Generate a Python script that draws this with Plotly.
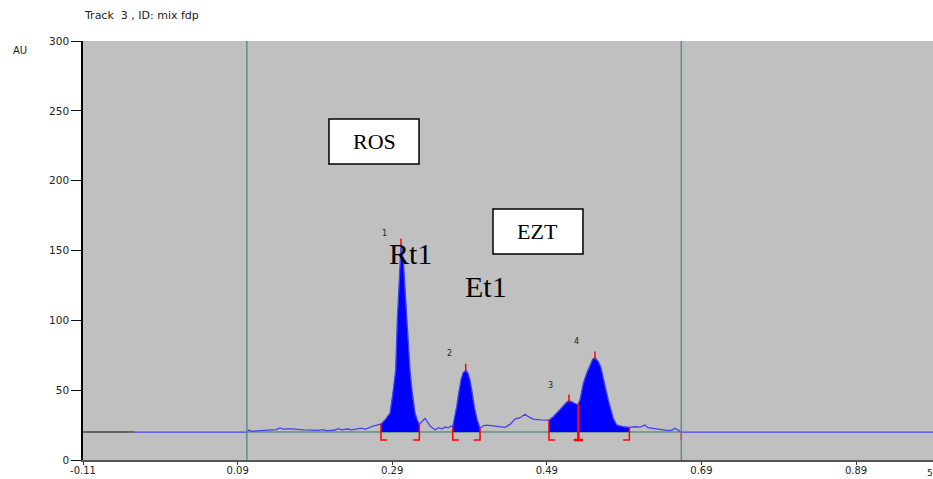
import numpy as np
import plotly.graph_objects as go

# ---------------- data ----------------
signal_x = [-0.043, 0.102, 0.1047, 0.1075, 0.115, 0.125, 0.135, 0.140, 0.145, 0.150,
            0.155, 0.165, 0.175, 0.185, 0.195, 0.200, 0.205, 0.215, 0.220, 0.225,
            0.232, 0.238, 0.245, 0.250, 0.255, 0.260, 0.265, 0.270, 0.2755,
            0.2807, 0.2872, 0.2910, 0.2945, 0.2966, 0.2984, 0.2997, 0.3014, 0.3044,
            0.3066, 0.3088, 0.3130, 0.3160, 0.3195, 0.3225, 0.3251,
            0.3324, 0.3389, 0.3454, 0.3497, 0.3541, 0.3584, 0.3627, 0.3662,
            0.3683, 0.3703, 0.3734, 0.3760, 0.3790, 0.3816, 0.3851, 0.3880, 0.3906,
            0.3936, 0.3962, 0.4000, 0.4036,
            0.4078, 0.4122, 0.4207, 0.4294, 0.4359, 0.4424, 0.4488, 0.4553, 0.4618,
            0.4661, 0.4725, 0.4812, 0.4899,
            0.4928, 0.4984, 0.5028, 0.5071, 0.5113, 0.5157, 0.5187, 0.5222, 0.5265,
            0.5300, 0.5329, 0.5351, 0.5372, 0.5416, 0.5459, 0.5494, 0.5523, 0.5566,
            0.5597, 0.5631, 0.5666, 0.5696, 0.5727, 0.5760, 0.5804, 0.5890, 0.5968,
            0.6041, 0.6106, 0.6170, 0.6205, 0.6278, 0.6343, 0.6386, 0.6451, 0.6516,
            0.6558, 0.6593, 0.6623, 0.664, 0.99]
signal_y = [20.0, 20.0, 21.5, 20.5, 20.8, 21.0, 21.2, 21.8, 23.0, 22.0,
            22.4, 21.8, 21.5, 21.4, 21.2, 21.8, 21.0, 21.3, 22.4, 21.6,
            22.2, 21.6, 22.0, 22.8, 22.0, 23.2, 24.2, 25.0, 25.8,
            28.6, 33.6, 48.0, 64.4, 100.2, 123.8, 143.2, 154.0, 143.2,
            123.8, 100.2, 64.4, 48.0, 33.6, 28.6, 25.5,
            29.8, 24.5, 21.5, 23.1, 22.2, 23.6, 23.0, 24.3,
            23.8, 28.6, 38.2, 47.7, 57.3, 62.3, 64.4, 62.3, 57.3,
            47.7, 38.2, 28.6, 22.7,
            24.5, 25.0, 24.5, 24.1, 23.4, 25.5, 29.3, 30.3, 32.7,
            31.0, 29.3, 28.8, 28.6,
            28.6, 31.0, 33.4, 35.8, 38.7, 41.3, 42.4, 41.7, 40.6,
            39.4, 42.9, 48.9, 54.9, 62.1, 68.0, 72.1, 73.2, 70.4,
            66.8, 59.6, 50.1, 42.9, 35.8, 29.8, 25.1, 23.8, 23.4,
            23.8, 23.6, 25.0, 23.1, 22.7, 22.2, 21.7, 21.2, 21.2,
            22.7, 21.5, 20.3, 20.0, 20.0]

baseline_level = 20.0
track_start = 0.102
track_end = 0.664

peak_labels = ["1", "2", "3", "4"]
peak_start = [0.2755, 0.3683, 0.4928, 0.5308]
peak_end = [0.3251, 0.4036, 0.5308, 0.5968]
apex_x = [0.3014, 0.3851, 0.5187, 0.5523]
apex_y = [154.0, 64.4, 42.4, 73.2]

x_tickvals = [-0.11, 0.09, 0.29, 0.49, 0.69, 0.89]
x_ticktext = ["-0.11", "0.09", "0.29", "0.49", "0.69", "0.89"]
y_tickvals = [0, 50, 100, 150, 200, 250, 300]

# ---------------- figure ----------------
sx = np.array(signal_x)
sy = np.array(signal_y)

fig = go.Figure()

# baseline pieces
fig.add_trace(go.Scatter(x=[-0.11, signal_x[0]], y=[baseline_level] * 2, mode="lines",
                         line=dict(color="#666666", width=2), hoverinfo="skip"))
fig.add_trace(go.Scatter(x=[track_start, track_end], y=[baseline_level] * 2, mode="lines",
                         line=dict(color="#7a9a98", width=2), hoverinfo="skip"))

# filled peak areas (merge contiguous peaks)
regions = []
for s, e in sorted(zip(peak_start, peak_end)):
    if regions and abs(regions[-1][1] - s) < 1e-9:
        regions[-1][1] = e
    else:
        regions.append([s, e])
for s, e in regions:
    inner = sx[(sx > s) & (sx < e)]
    px = [s] + list(inner) + [e]
    py = list(np.interp(px, sx, sy))
    px += [e, s]
    py += [baseline_level, baseline_level]
    fig.add_trace(go.Scatter(x=px, y=py, mode="lines", fill="toself",
                             fillcolor="#0000ff", line=dict(width=0, color="#0000ff"),
                             hoverinfo="skip"))

# signal line
fig.add_trace(go.Scatter(x=signal_x, y=signal_y, mode="lines",
                         line=dict(color="#4444ee", width=1.3), hoverinfo="skip"))

# red brackets
foot = 14.3
tick = 0.008
bx, by = [], []
sep_x, sep_y = [], []
bounds = sorted(set(peak_start + peak_end))
for b in bounds:
    yb = float(np.interp(b, sx, sy))
    is_s = any(abs(b - v) < 1e-9 for v in peak_start)
    is_e = any(abs(b - v) < 1e-9 for v in peak_end)
    if is_s and is_e:
        sep_x += [b, b, None, b - tick * 0.75, b + tick * 0.75, None]
        sep_y += [yb, foot, None, foot, foot, None]
    elif is_s:
        bx += [b, b, b + tick, None]
        by += [yb, foot, foot, None]
    else:
        bx += [b, b, b - tick, None]
        by += [yb, foot, foot, None]
# end-of-track mark
bx += [track_end, track_end, None]
by += [baseline_level, foot, None]
# apex ticks
for ax_, ay_ in zip(apex_x, apex_y):
    bx += [ax_, ax_, None]
    by += [ay_ - 1, ay_ + 4.5, None]
fig.add_trace(go.Scatter(x=bx, y=by, mode="lines", line=dict(color="#ff0000", width=1.5),
                         hoverinfo="skip"))
fig.add_trace(go.Scatter(x=sep_x, y=sep_y, mode="lines", line=dict(color="#ff0000", width=2.5),
                         hoverinfo="skip"))

# track boundary lines
for xv in [track_start, track_end]:
    fig.add_shape(type="line", x0=xv, x1=xv, y0=0, y1=300, xref="x", yref="y",
                  line=dict(color="#5e8e8c", width=1.5), layer="above")

# text boxes
fig.add_shape(type="rect", x0=0.2082, x1=0.3247, y0=211.9, y1=244.1,
              line=dict(color="black", width=1.5), fillcolor="white")
fig.add_shape(type="rect", x0=0.4204, x1=0.5368, y0=147.5, y1=179.7,
              line=dict(color="black", width=1.5), fillcolor="white")

serif = "Liberation Serif, Times New Roman, serif"
sans = "DejaVu Sans, Arial, sans-serif"
ann = [
    dict(x=0.2665, y=228.0, text="ROS", font=dict(family=serif, size=22, color="black")),
    dict(x=0.4786, y=163.6, text="EZT", font=dict(family=serif, size=22, color="black")),
    dict(x=0.3143, y=147.5, text="Rt1", font=dict(family=serif, size=30, color="black")),
    dict(x=0.4113, y=124.5, text="Et1", font=dict(family=serif, size=30, color="black")),
]
label_pos = [(0.280, 162.5), (0.3635, 76.6), (0.4954, 53.7), (0.529, 84.5)]
for lab, (lx, ly) in zip(peak_labels, label_pos):
    ann.append(dict(x=lx, y=ly, text=lab, font=dict(family=sans, size=8, color="#222222")))
for a in ann:
    fig.add_annotation(xref="x", yref="y", showarrow=False, **a)

fig.add_annotation(xref="paper", yref="paper", x=-0.001, y=1.0597, xanchor="left",
                   yanchor="middle", text="Track  3 , ID: mix fdp", showarrow=False,
                   font=dict(family=sans, size=11, color="#222222"))
fig.add_annotation(xref="paper", yref="paper", x=-0.0741, y=0.9785, xanchor="center",
                   yanchor="middle", text="AU", showarrow=False,
                   font=dict(family=sans, size=10, color="#222222"))
fig.add_annotation(xref="paper", yref="paper", x=0.992, y=-0.0453, xanchor="left",
                   yanchor="bottom", text="5", showarrow=False, borderpad=0,
                   font=dict(family=sans, size=9, color="#222222"))

fig.update_layout(
    width=933, height=479,
    margin=dict(l=83, r=0, t=41, b=19),
    paper_bgcolor="white", plot_bgcolor="#c0c0c0",
    showlegend=False,
    xaxis=dict(range=[-0.11, 0.9896], tickvals=x_tickvals, ticktext=x_ticktext,
               ticks="outside", ticklen=3, tickcolor="#333333", showgrid=False,
               zeroline=False, showline=True, linecolor="#555555", linewidth=2,
               automargin=False, ticklabelstandoff=-3,
               tickfont=dict(family=sans, size=10, color="#222222")),
    yaxis=dict(range=[0, 300], tickvals=y_tickvals, ticks="outside", ticklen=10,
               tickcolor="#111111", showgrid=False, zeroline=False, showline=True,
               linecolor="black", linewidth=1.5, automargin=False,
               tickfont=dict(family=sans, size=10.5, color="#222222")),
)

fig.write_html("out.html", config={"displayModeBar": False},
               post_script="document.body.style.margin='0';document.body.style.padding='0';"
                           "document.body.style.overflow='hidden';")
